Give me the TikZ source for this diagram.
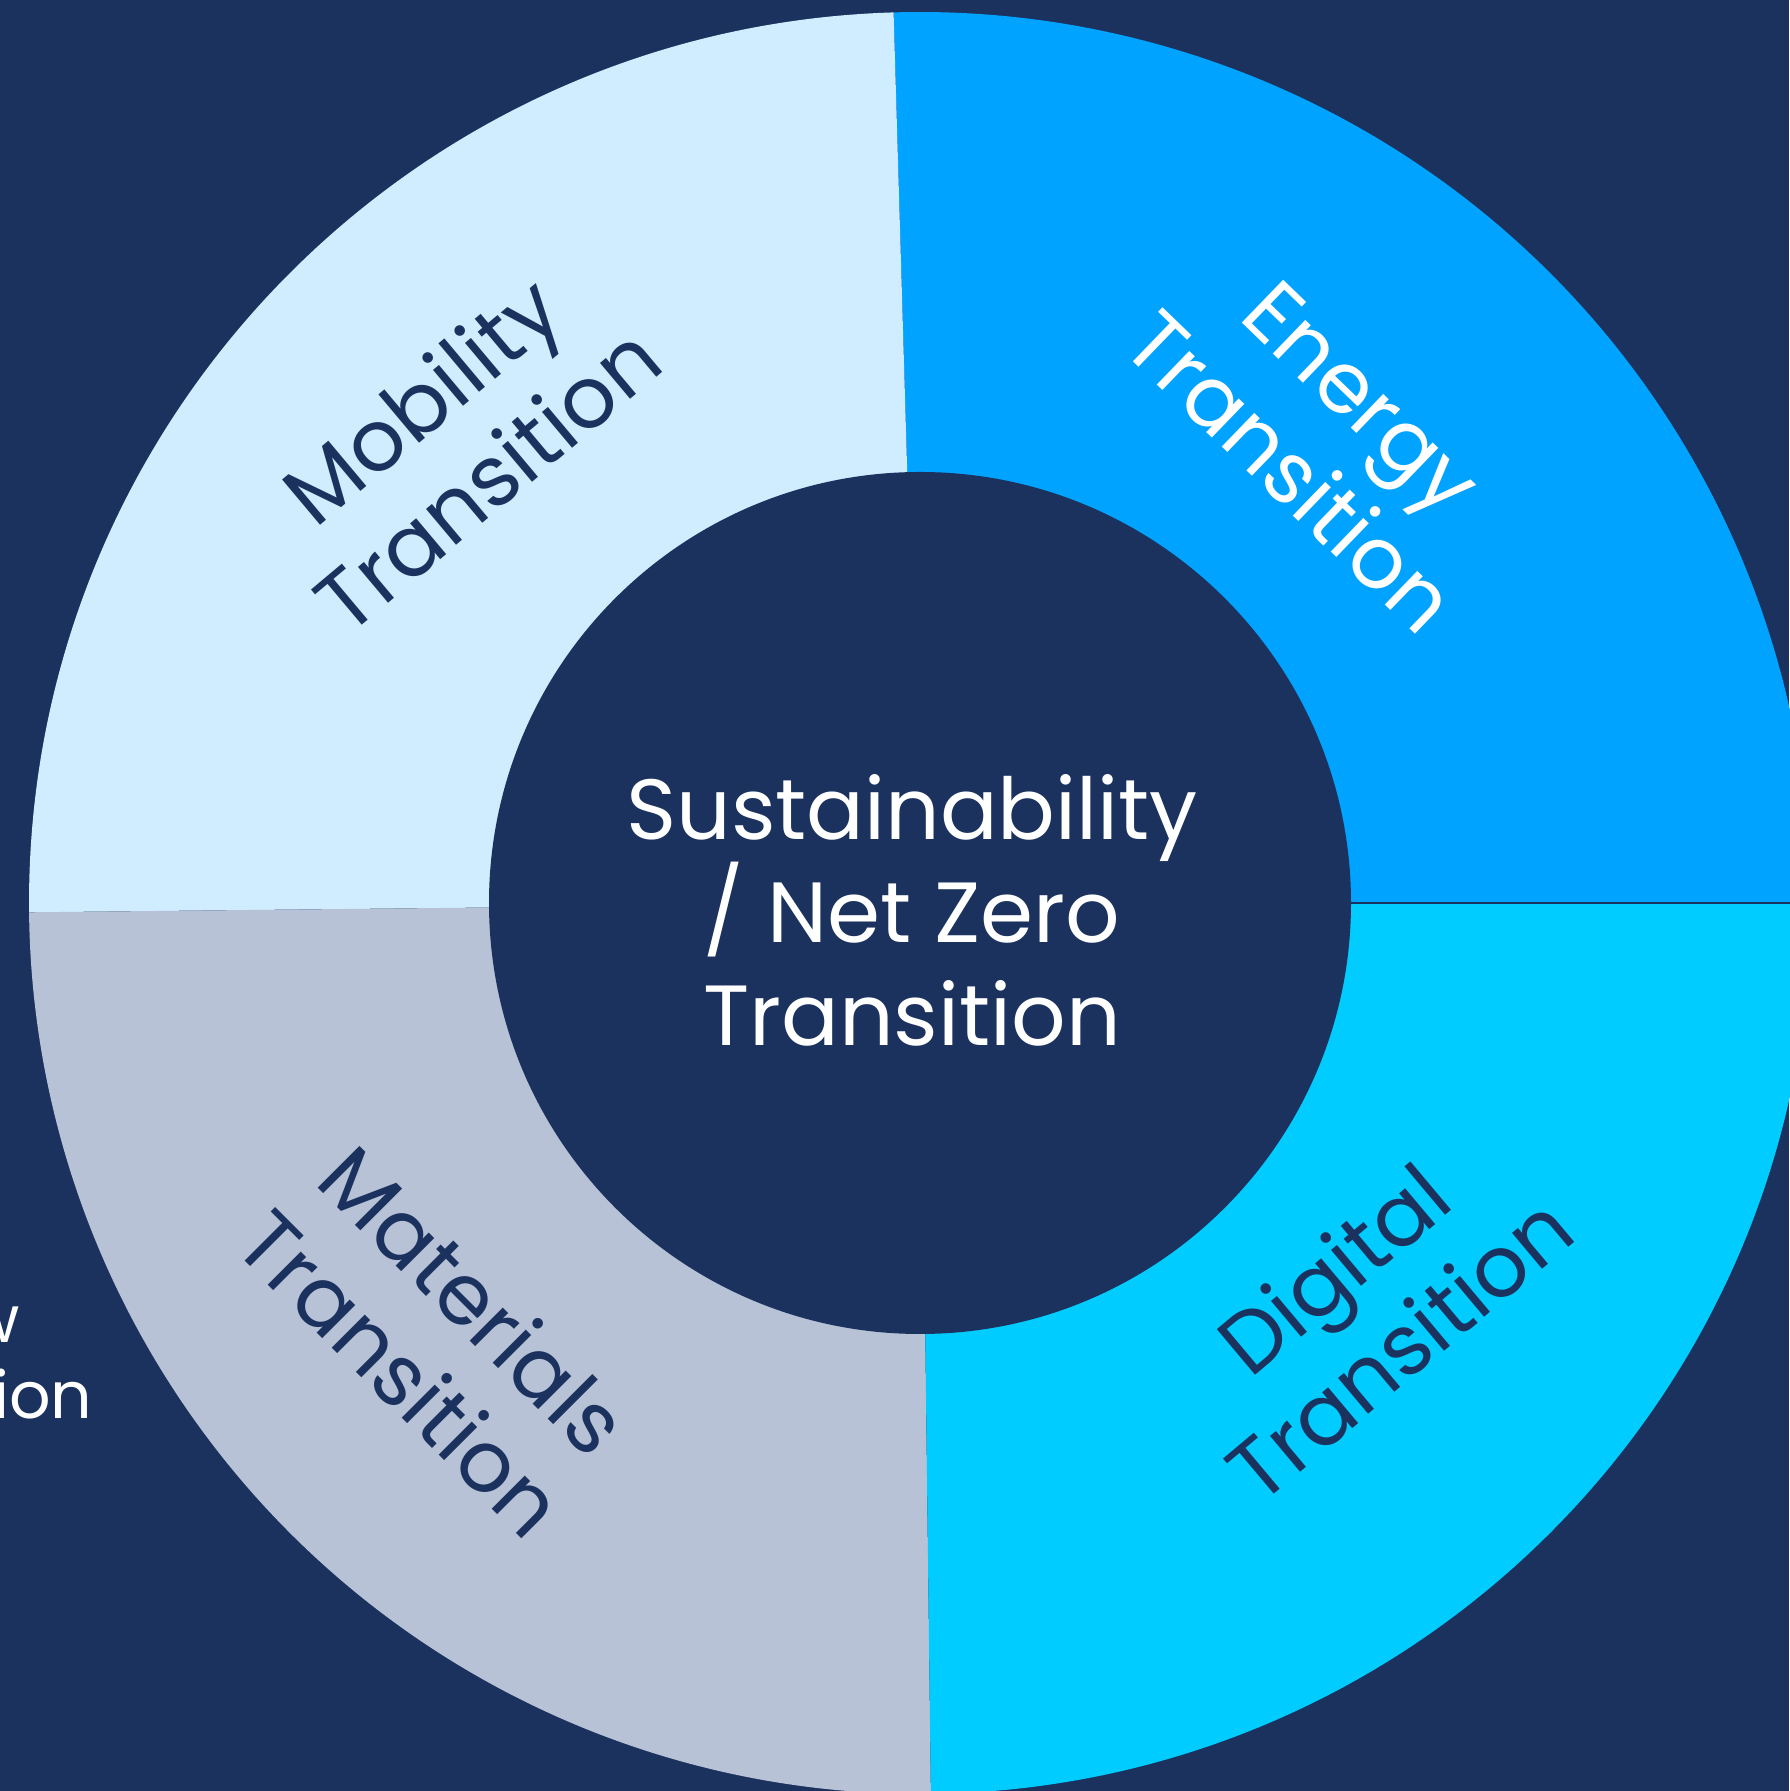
\documentclass[tikz,border=0pt]{standalone}
\usepackage{fontspec}
\setmainfont{Poppins}
\definecolor{navy}{HTML}{1B325E}
\definecolor{mobility}{HTML}{D0ECFF}
\definecolor{energy}{HTML}{00A3FF}
\definecolor{digital}{HTML}{00CCFF}
\definecolor{materials}{HTML}{B7C2D7}

\begin{document}
\begin{tikzpicture}
   \tikzstyle{every node}=[align=center, inner sep=0pt, font=\fontsize{24.3}{29.3}\selectfont]
   \tikzstyle{dark label}=[text=navy]
   \tikzstyle{light label}=[text=white]
   \tikzstyle{side label}=[text=white, anchor=base east, font=\fontsize{18.5}{22}\selectfont]

\useasboundingbox[fill=navy] (-9.20,-8.88) rectangle (8.69,9.03);

% the four wedges of the ring
\fill[energy] (0,0) -- (0:8.91) arc[start angle=0, end angle=91.7, radius=8.91] -- cycle;
\fill[mobility] (0,0) -- (91.7:8.91) arc[start angle=91.7, end angle=180.6, radius=8.91] -- cycle;
\fill[materials] (0,0) -- (180.6:8.91) arc[start angle=180.6, end angle=270.7, radius=8.91] -- cycle;
\fill[digital] (0,0) -- (270.7:8.91) arc[start angle=270.7, end angle=360, radius=8.91] -- cycle;
\draw[navy, line width=0.5pt] (0:4.3) -- (0:8.91);
\fill[navy] (0,0) circle (4.31);

\node[light label] (core) at (-0.08,-0.07) {Sustainability\\/ Net Zero\\Transition};
\node[dark label, rotate=40] (mobility) at (-4.66,4.64) {Mobility\\Transition};
\node[light label, rotate=-44] (energy) at (4.06,4.68) {Energy\\Transition};
\node[dark label, rotate=40] (digital) at (4.46,-4.05) {Digital\\Transition};
\node[dark label, rotate=-45] (materials) at (-4.82,-4.33) {Materials\\Transition};

% text cut off at the left edge
\node[side label] (cut a) at (-8.99,-4.40) {w};
\node[side label] (cut b) at (-8.27,-5.15) {ion};

\end{tikzpicture}
\end{document}
